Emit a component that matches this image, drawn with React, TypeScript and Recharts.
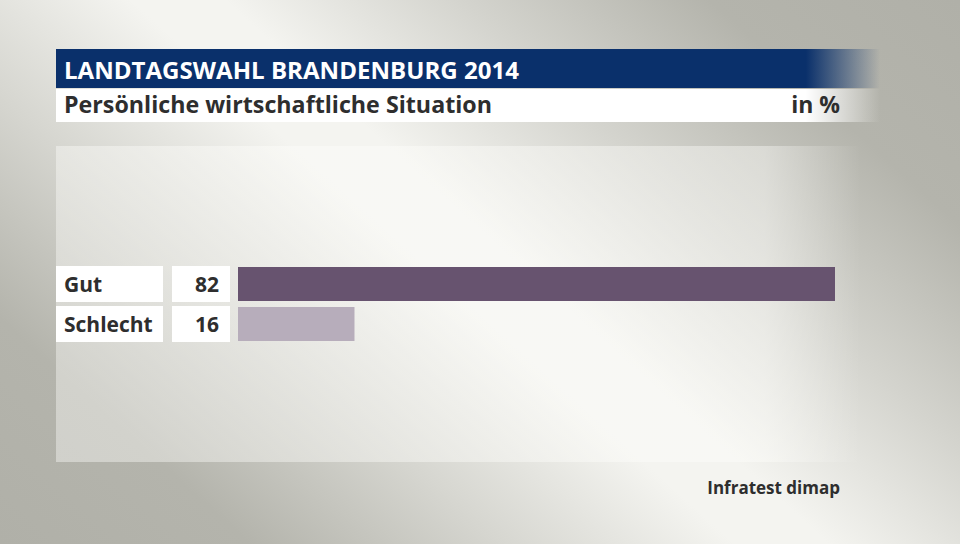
import React from 'react';
import { BarChart, Bar, XAxis, YAxis, Cell } from 'recharts';

const categories = ['Gut', 'Schlecht'];
const values = [82, 16];
const barColors = ['#67536f', '#b7adbb'];

const title = 'LANDTAGSWAHL BRANDENBURG 2014';
const subtitle = 'Persönliche wirtschaftliche Situation';
const unit = 'in %';
const source = 'Infratest dimap';

const data = categories.map((name, i) => ({ name, value: values[i] }));

const FONT = '"Open Sans", "DejaVu Sans", sans-serif';

const RowTick = (props: any) => {
  const { y, index } = props;
  return (
    <g>
      <rect x={0} y={y - 18} width={107} height={36} fill="#ffffff" />
      <rect x={116} y={y - 18} width={58} height={36} fill="#ffffff" />
      <text x={8} y={y + 8} fontFamily={FONT} fontWeight={700} fontSize={21} fill="#2e2e2e">
        {categories[index]}
      </text>
      <text x={163} y={y + 8} textAnchor="end" fontFamily={FONT} fontWeight={700} fontSize={21} fill="#2e2e2e">
        {values[index]}
      </text>
    </g>
  );
};

const App: React.FC = () => {
  return (
    <div
      style={{
        position: 'absolute',
        left: 0,
        top: 0,
        width: 960,
        height: 544,
        overflow: 'hidden',
        background:
          'linear-gradient(42deg, #b0b0a8 0%, #b4b4ac 16%, #d6d6d0 32%, #f4f4f0 47%, #f4f4f0 53%, #d4d4ce 68%, #b4b4ac 84%, #b0b0a8 100%)',
      }}
    >
      {/* light panel */}
      <div
        style={{
          position: 'absolute',
          left: 56,
          top: 146,
          width: 805,
          height: 316,
          background: 'linear-gradient(90deg, rgba(255,255,252,0.4) 0%, rgba(255,255,252,0.4) 88%, rgba(255,255,252,0) 100%)',
        }}
      />
      {/* title bar */}
      <div
        style={{
          position: 'absolute',
          left: 56,
          top: 49,
          width: 824,
          height: 39,
          background: 'linear-gradient(90deg, #0a306b 0%, #0a306b 91%, rgba(10,48,107,0) 100%)',
        }}
      />
      {/* subtitle bar */}
      <div
        style={{
          position: 'absolute',
          left: 56,
          top: 89,
          width: 824,
          height: 33,
          background: 'linear-gradient(90deg, #ffffff 0%, #ffffff 91%, rgba(255,255,255,0) 100%)',
        }}
      />
      <svg width={960} height={544} style={{ position: 'absolute', left: 0, top: 0 }}>
        <text x={64} y={79} fontFamily={FONT} fontWeight={700} fontSize={23} fill="#ffffff" textLength={455} lengthAdjust="spacingAndGlyphs">
          {title}
        </text>
        <text x={64} y={113} fontFamily={FONT} fontWeight={700} fontSize={23} fill="#2e2e2e" textLength={428} lengthAdjust="spacingAndGlyphs">
          {subtitle}
        </text>
        <text x={840} y={113} textAnchor="end" fontFamily={FONT} fontWeight={700} fontSize={23} fill="#2e2e2e">
          {unit}
        </text>
        <text x={840} y={494} textAnchor="end" fontFamily={FONT} fontWeight={700} fontSize={17} fill="#2e2e2e">
          {source}
        </text>
      </svg>
      <div style={{ position: 'absolute', left: 56, top: 264 }}>
        <BarChart
          width={779}
          height={80}
          data={data}
          layout="vertical"
          margin={{ top: 0, right: 0, bottom: 0, left: 0 }}
          barCategoryGap={0}
        >
          <XAxis type="number" domain={[0, 82]} hide />
          <YAxis
            type="category"
            dataKey="name"
            width={182}
            axisLine={false}
            tickLine={false}
            tick={<RowTick />}
            interval={0}
          />
          <Bar dataKey="value" barSize={34} isAnimationActive={false}>
            {data.map((d, i) => (
              <Cell key={d.name} fill={barColors[i]} />
            ))}
          </Bar>
        </BarChart>
      </div>
    </div>
  );
};

export default App;
